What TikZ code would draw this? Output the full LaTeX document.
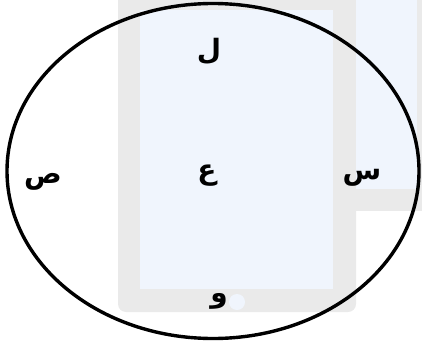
\documentclass[tikz,border=0pt]{standalone}
\usepackage{fontspec}
\newfontfamily\arabicfont[Script=Arabic,BoldFont={DejaVu Sans Bold}]{DejaVu Sans}
\TeXXeTstate=1
\usetikzlibrary{shapes.geometric}
\definecolor{devicegray}{HTML}{EAEAEA}
\definecolor{screenblue}{HTML}{F0F5FD}

\begin{document}
\begin{tikzpicture}[x=1pt,y=-1pt]
      \useasboundingbox (0,0) rectangle (422,342);
      \coordinate (origo) at (213,171);

      \tikzstyle{letter} = [
        draw=none,
        inner sep=0pt,
        font=\arabicfont\bfseries\fontsize{28}{30}\selectfont
      ]
      \tikzstyle{oval} = [
        ellipse,
        draw=black,
        line width=3.4pt,
        minimum width=412pt,
        minimum height=335pt
      ]

      % devices behind
      \fill[devicegray] (118,0) [rounded corners=8pt] -- (118,312) -- (356,312) [sharp corners] -- (356,0) -- cycle;
      \fill[screenblue] (140,10) rectangle (333,289);
      \fill[screenblue] (237,302) circle (8);
      \fill[devicegray] (356,0) rectangle (422,211);
      \fill[screenblue] (356,0) rectangle (417,189);

      % ellipse
      \node[oval] (ring) at (origo) {};

      % letters
      \node[letter] (top) at ([xshift=-4pt,yshift=120pt] origo) {\beginR ل\endR};
      \node[letter] (mid) at ([xshift=-6pt,yshift=-5pt] origo) {\beginR ع\endR};
      \node[letter] (left) at ([xshift=-170pt,yshift=-11pt] origo) {\beginR ص\endR};
      \node[letter] (right) at ([xshift=149pt,yshift=-7pt] origo) {\beginR س\endR};
      \node[letter] (bottom) at ([xshift=6pt,yshift=-130pt] origo) {\beginR و\endR};
\end{tikzpicture}
\end{document}
